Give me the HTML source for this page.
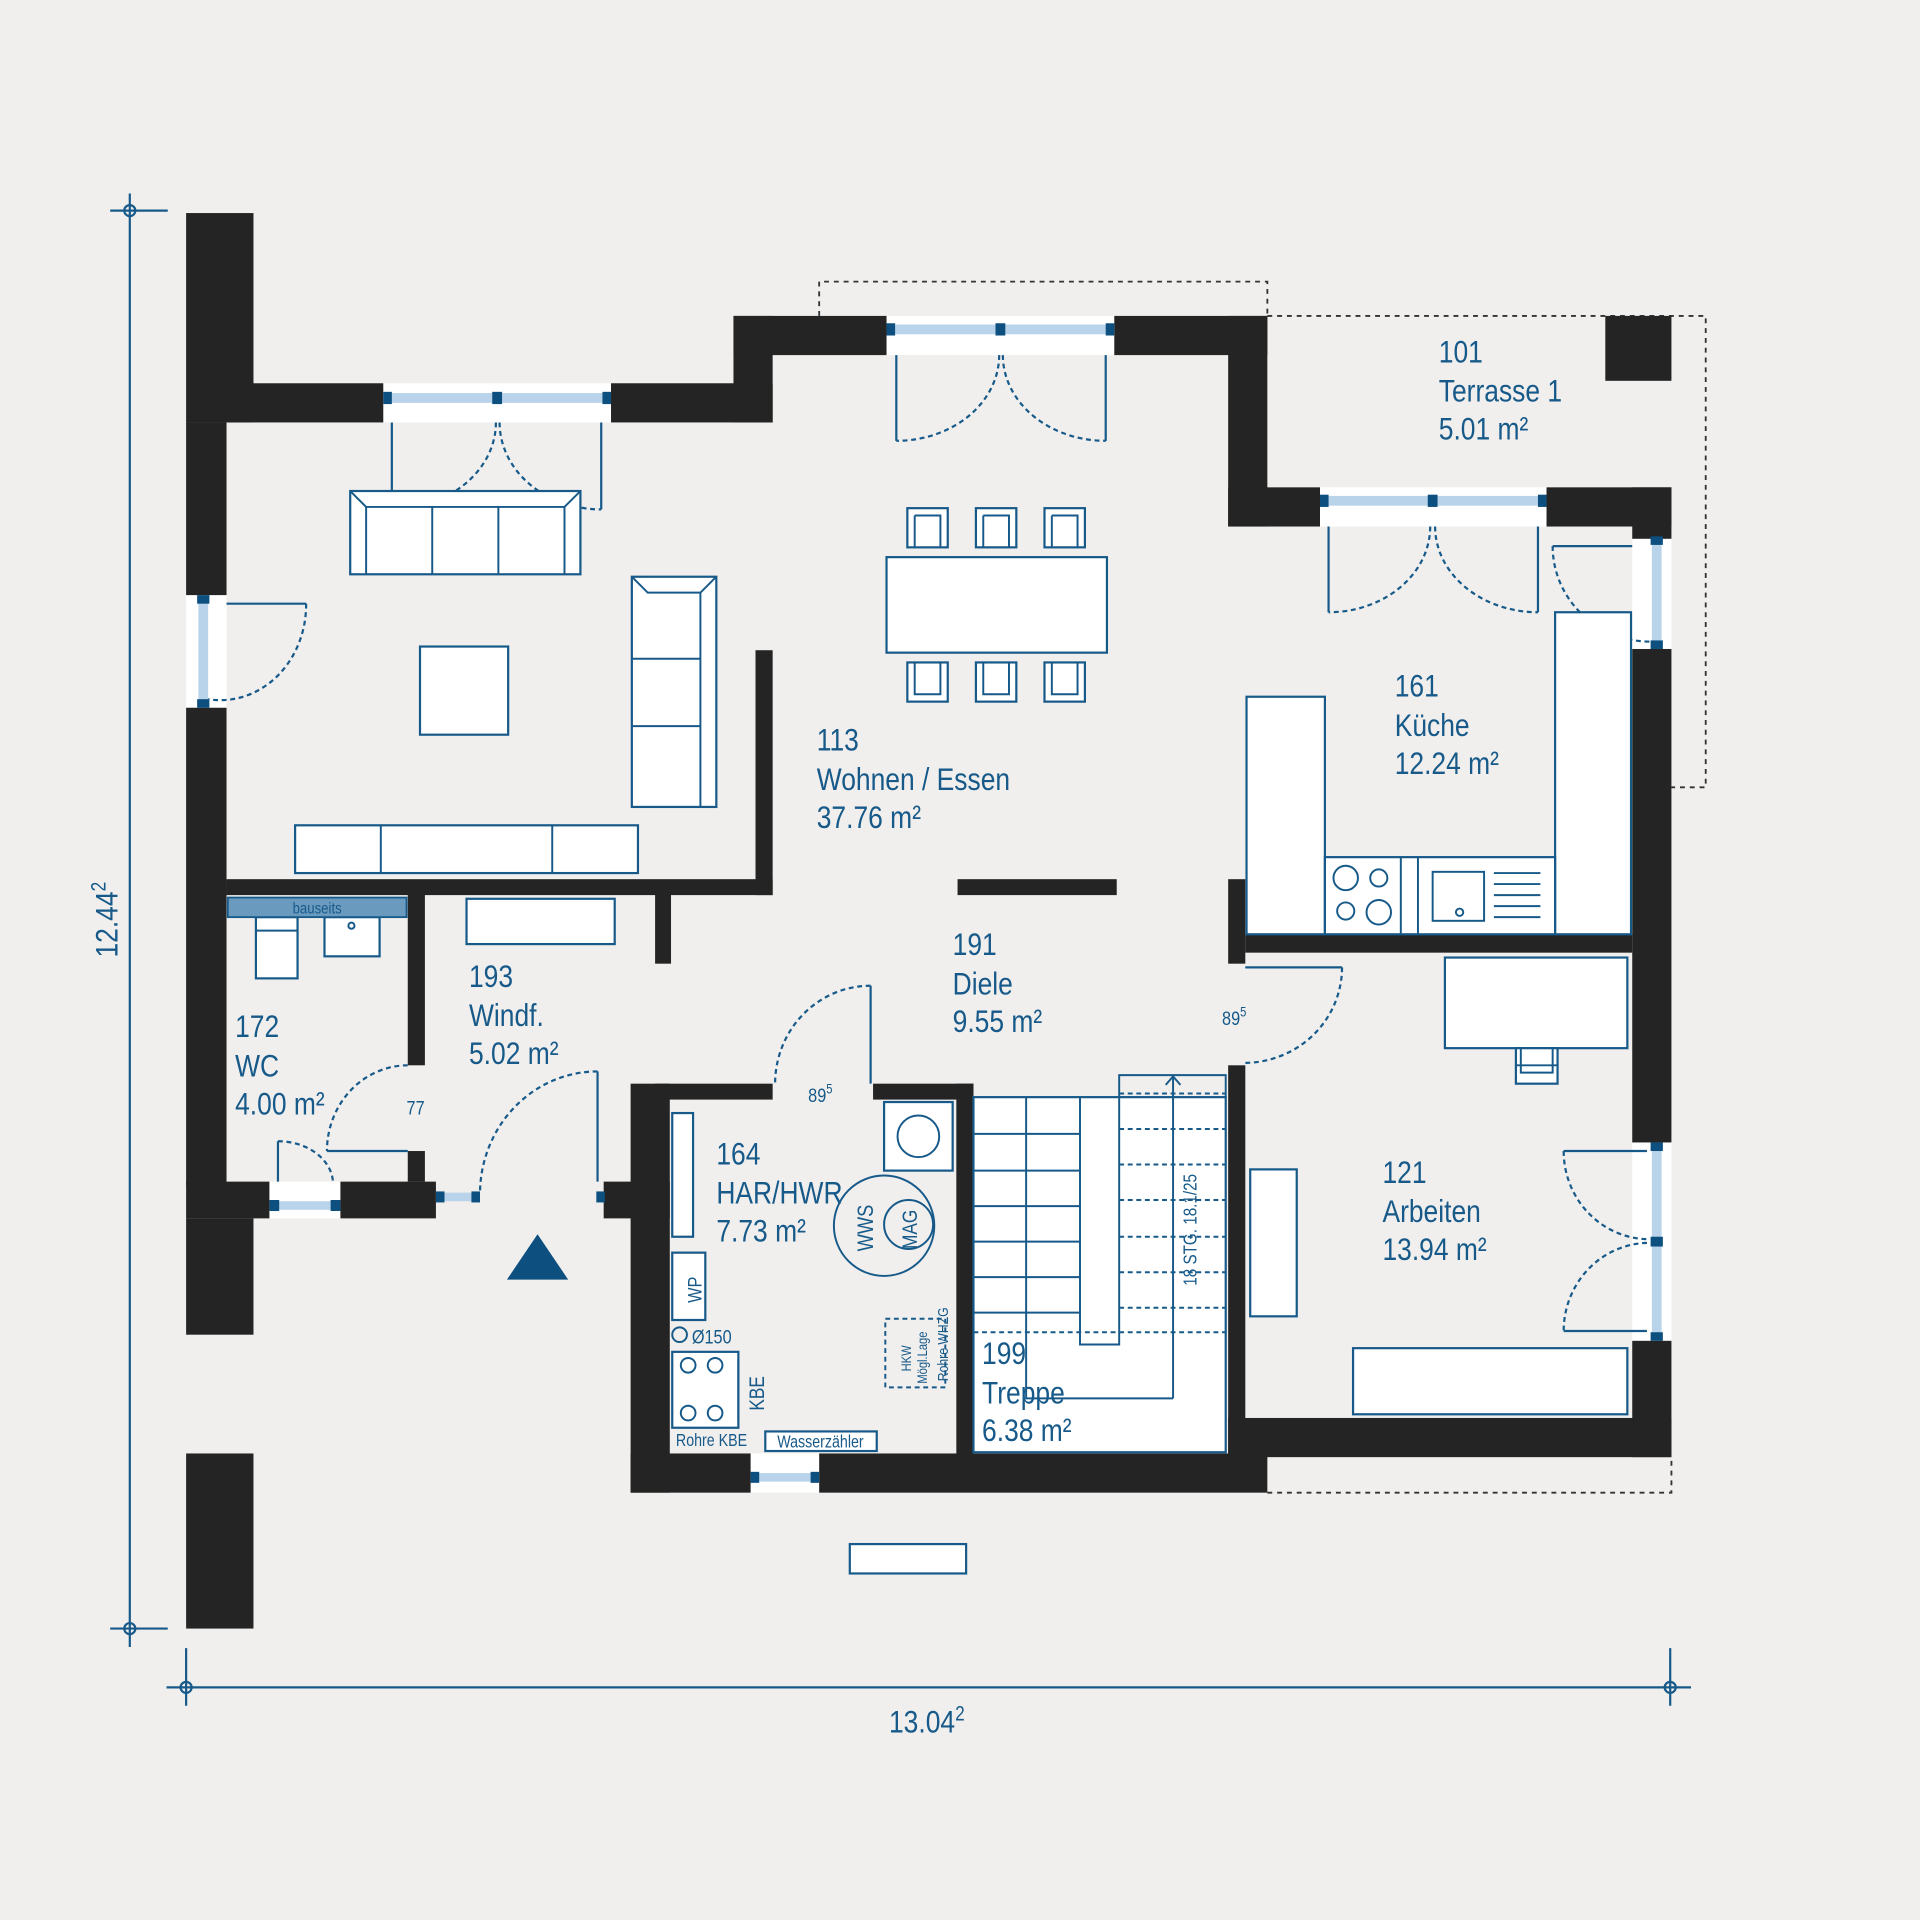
<!DOCTYPE html>
<html><head><meta charset="utf-8"><style>
html,body{margin:0;padding:0;background:#f0efed;}
svg{display:block;}
text{font-family:"Liberation Sans Narrow","Liberation Sans",sans-serif;fill:#175a8a;}
</style></head><body>
<svg width="1920" height="1920" viewBox="0 0 1568 1568" xmlns="http://www.w3.org/2000/svg">
<rect width="1568" height="1568" fill="#f0efed"/>
<g fill="none" stroke="#333" stroke-width="1.5" stroke-dasharray="4,4">
<path d="M669 258 V230 H1035 V258"/>
<path d="M1035 258 H1393 V643 H1365"/>
<path d="M1035 1219 H1365 V1190"/>
</g>
<g fill="#fff">
<rect x="313" y="313" width="186" height="32"/>
<rect x="724" y="258" width="186" height="32"/>
<rect x="1078" y="398" width="185" height="32"/>
<rect x="1333" y="440" width="32" height="90"/>
<rect x="1333" y="933" width="32" height="162"/>
<rect x="152" y="486" width="33" height="92"/>
<rect x="220" y="965" width="58" height="30"/>
<rect x="613" y="1187" width="56" height="32"/>
</g>
<g fill="#242424">
<rect x="152" y="174" width="55" height="171"/>
<rect x="152" y="345" width="33" height="141"/>
<rect x="152" y="578" width="33" height="390"/>
<rect x="152" y="965" width="68" height="30"/>
<rect x="152" y="995" width="55" height="95"/>
<rect x="152" y="1187" width="55" height="143"/>
<rect x="185" y="313" width="128" height="32"/>
<rect x="499" y="313" width="132" height="32"/>
<rect x="599" y="258" width="32" height="87"/>
<rect x="599" y="258" width="125" height="32"/>
<rect x="910" y="258" width="125" height="32"/>
<rect x="1003" y="258" width="32" height="172"/>
<rect x="1003" y="398" width="75" height="32"/>
<rect x="1263" y="398" width="102" height="32"/>
<rect x="1333" y="398" width="32" height="42"/>
<rect x="1333" y="530" width="32" height="403"/>
<rect x="1333" y="1095" width="32" height="95"/>
<rect x="1003" y="1158" width="362" height="32"/>
<rect x="669" y="1187" width="366" height="32"/>
<rect x="515" y="1187" width="98" height="32"/>
<rect x="1311" y="258" width="54" height="53"/>
<rect x="185" y="718" width="446" height="13"/>
<rect x="617" y="531" width="14" height="200"/>
<rect x="333" y="730" width="14" height="140"/>
<rect x="333" y="940" width="14" height="25"/>
<rect x="278" y="965" width="78" height="30"/>
<rect x="493" y="965" width="54" height="30"/>
<rect x="515" y="885" width="32" height="334"/>
<rect x="535" y="885" width="96" height="13"/>
<rect x="713" y="885" width="82" height="13"/>
<rect x="781" y="885" width="14" height="305"/>
<rect x="782" y="718" width="130" height="13"/>
<rect x="535" y="730" width="13" height="57"/>
<rect x="1003" y="718" width="14" height="69"/>
<rect x="1003" y="870" width="14" height="320"/>
<rect x="1017" y="763" width="316" height="15"/>
</g>
<g fill="#b9d3ea">
<rect x="316" y="321" width="180" height="8"/>
<rect x="727" y="265" width="180" height="8"/>
<rect x="1081" y="405" width="179" height="8"/>
<rect x="1349" y="443" width="8" height="84"/>
<rect x="1349" y="936" width="8" height="156"/>
<rect x="162" y="489" width="8" height="86"/>
<rect x="223" y="981" width="52" height="7"/>
<rect x="616" y="1203" width="50" height="7"/>
<rect x="358" y="974" width="32" height="7"/>
</g>
<g fill="#0d4f7e">
<rect x="313" y="320" width="7" height="10"/><rect x="402" y="320" width="8" height="10"/><rect x="492" y="320" width="7" height="10"/>
<rect x="724" y="264" width="7" height="10"/><rect x="813" y="264" width="8" height="10"/><rect x="903" y="264" width="7" height="10"/>
<rect x="1078" y="404" width="7" height="10"/><rect x="1166" y="404" width="8" height="10"/><rect x="1256" y="404" width="7" height="10"/>
<rect x="1348" y="438" width="10" height="7"/><rect x="1348" y="523" width="10" height="7"/>
<rect x="1348" y="933" width="10" height="7"/><rect x="1348" y="1010" width="10" height="8"/><rect x="1348" y="1088" width="10" height="7"/>
<rect x="161" y="486" width="10" height="7"/><rect x="161" y="571" width="10" height="7"/>
<rect x="220" y="980" width="8" height="9"/><rect x="270" y="980" width="8" height="9"/>
<rect x="613" y="1202" width="7" height="9"/><rect x="662" y="1202" width="7" height="9"/>
<rect x="356" y="973" width="7" height="9"/><rect x="385" y="973" width="7" height="9"/>
<rect x="487" y="973" width="7" height="9"/>
</g>
<g fill="none" stroke="#175a8a" stroke-width="1.8">
<path d="M320 345 V416 M491 345 V416"/>
<path d="M732 290 V360 M903 290 V360"/>
<path d="M1085 430 V500 M1256 430 V500"/>
<path d="M1268 446 H1333"/>
<path d="M185 493 H250"/>
<path d="M711 805 V885"/>
<path d="M1017 790 H1096"/>
<path d="M227 932 V965"/>
<path d="M267 940 H333"/>
<path d="M488 875 V965"/>
<path d="M1277 940 H1345 M1277 1087 H1345"/>
</g>
<g fill="none" stroke="#175a8a" stroke-width="1.8" stroke-dasharray="4,3">
<path d="M405 345 A86 71 0 0 1 320 416"/>
<path d="M408 345 A83 71 0 0 0 491 416"/>
<path d="M816 290 A84 70 0 0 1 732 360"/>
<path d="M819 290 A84 70 0 0 0 903 360"/>
<path d="M1168 430 A83 70 0 0 1 1085 500"/>
<path d="M1172 430 A84 70 0 0 0 1256 500"/>
<path d="M1268 446 A80 78 0 0 0 1348 524"/>
<path d="M250 493 A70 78 0 0 1 170 571"/>
<path d="M711 805 A78 80 0 0 0 633 885"/>
<path d="M1096 790 A80 78 0 0 1 1017 868"/>
<path d="M227 932 A45 35 0 0 1 272 967"/>
<path d="M333 870 A66 70 0 0 0 267 940"/>
<path d="M488 875 A96 100 0 0 0 392 975"/>
<path d="M1277 940 A70 72 0 0 0 1345 1012"/>
<path d="M1345 1015 A70 72 0 0 0 1277 1087"/>
</g>
<g fill="#fff" stroke="#175a8a" stroke-width="1.8">
<rect x="286" y="401" width="188" height="68"/>
<rect x="516" y="471" width="69" height="188"/>
<rect x="343" y="528" width="72" height="72"/>
<rect x="241" y="674" width="280" height="39"/>
<rect x="724" y="455" width="180" height="78"/>
<rect x="741" y="415" width="33" height="32"/><rect x="797" y="415" width="33" height="32"/><rect x="853" y="415" width="33" height="32"/>
<rect x="741" y="541" width="33" height="32"/><rect x="797" y="541" width="33" height="32"/><rect x="853" y="541" width="33" height="32"/>
<rect x="1018" y="569" width="64" height="194"/>
<rect x="1270" y="500" width="62" height="263"/>
<rect x="1082" y="700" width="188" height="63"/>
<rect x="1180" y="782" width="149" height="74"/>
<rect x="1238" y="856" width="34" height="29"/>
<rect x="1021" y="955" width="38" height="120"/>
<rect x="1105" y="1101" width="224" height="54"/>
<rect x="381" y="734" width="121" height="37"/>
<rect x="209" y="749" width="34" height="50"/>
<rect x="265" y="749" width="45" height="32"/>
<rect x="549" y="909" width="17" height="101"/>
<rect x="722" y="900" width="56" height="56"/>
<rect x="549" y="1023" width="27" height="55"/>
<rect x="549" y="1104" width="54" height="62"/>
<rect x="625" y="1169" width="91" height="16"/>
<rect x="694" y="1261" width="95" height="24"/>
<rect x="795" y="896" width="206" height="290"/>
</g>
<g fill="none" stroke="#175a8a" stroke-width="1.6">
<path d="M286 401 L299 414 V469 M474 401 L461 414 V469 M299 414 H461 M353 414 V469 M407 414 V469"/>
<path d="M516 471 L529 484 H572 L585 471 M572 484 V659 M516 538 H572 M516 593 H572"/>
<path d="M311 674 V713 M451 674 V713"/>
<path d="M747 421 h21 v26 M747 447 v-26 M803 421 h21 v26 M803 447 v-26 M859 421 h21 v26 M859 447 v-26"/>
<path d="M747 541 v26 h21 v-26 M803 541 v26 h21 v-26 M859 541 v26 h21 v-26"/>
<path d="M1144 700 V763 M1158 700 V763"/>
<rect x="1170" y="712" width="42" height="40"/>
<path d="M1220 713 H1258 M1220 722 H1258 M1220 731 H1258 M1220 740 H1258 M1220 749 H1258"/>
<circle cx="1192" cy="745" r="3"/>
<circle cx="1099" cy="717" r="10"/><circle cx="1126" cy="717" r="7"/><circle cx="1099" cy="744" r="7"/><circle cx="1126" cy="745" r="10"/>
<path d="M1242 856 V876 H1268 V856 M1238 870 H1272"/>
<path d="M209 760 H243"/><circle cx="287" cy="756" r="2.5"/>
<circle cx="750" cy="928" r="17"/>
<circle cx="722" cy="1001" r="41"/><circle cx="742" cy="1000" r="20"/>
<circle cx="555" cy="1090" r="6"/>
<circle cx="562" cy="1115" r="6"/><circle cx="584" cy="1115" r="6"/><circle cx="562" cy="1154" r="6"/><circle cx="584" cy="1154" r="6"/>
<path d="M603 1110 V1161"/>
<path d="M838 896 V1088 M795 926 H882 M795 956 H882 M795 985 H882 M795 1014 H882 M795 1043 H882 M795 1072 H882 M882 896 V1098 H914 V878 H1001 V896 M914 878 V896"/>
<path d="M958 1142 V880 M952 886 L958 879 L964 886 M838 1088 V1142 H958"/>
</g>
<g fill="none" stroke="#175a8a" stroke-width="1.6" stroke-dasharray="4,3">
<path d="M914 893 H1001 M914 922 H1001 M914 951 H1001 M914 980 H1001 M914 1010 H1001 M914 1039 H1001 M914 1068 H1001 M795 1088 H1001"/>
<rect x="723" y="1077" width="49" height="56"/>
</g>
<rect x="186" y="733" width="146" height="16" fill="#6b9abf" stroke="#175a8a" stroke-width="1.5"/>
<text transform="translate(259,746) scale(0.83,1)" font-size="13" text-anchor="middle" fill="#0d3f66">bauseits</text>
<polygon points="439,1008 414,1045 464,1045" fill="#0d4f7e"/>
<g font-size="26">
<g transform="translate(1175,0) scale(0.83,1)"><text x="0" y="296">101</text><text x="0" y="328">Terrasse 1</text><text x="0" y="359">5.01 m²</text></g>
<g transform="translate(1139,0) scale(0.83,1)"><text x="0" y="569">161</text><text x="0" y="601">Küche</text><text x="0" y="632">12.24 m²</text></g>
<g transform="translate(667,0) scale(0.83,1)"><text x="0" y="613">113</text><text x="0" y="645">Wohnen / Essen</text><text x="0" y="676">37.76 m²</text></g>
<g transform="translate(778,0) scale(0.83,1)"><text x="0" y="780">191</text><text x="0" y="812">Diele</text><text x="0" y="843">9.55 m²</text></g>
<g transform="translate(383,0) scale(0.83,1)"><text x="0" y="806">193</text><text x="0" y="838">Windf.</text><text x="0" y="869">5.02 m²</text></g>
<g transform="translate(192,0) scale(0.83,1)"><text x="0" y="847">172</text><text x="0" y="879">WC</text><text x="0" y="910">4.00 m²</text></g>
<g transform="translate(585,0) scale(0.83,1)"><text x="0" y="951">164</text><text x="0" y="983">HAR/HWR</text><text x="0" y="1014">7.73 m²</text></g>
<g transform="translate(802,0) scale(0.83,1)"><text x="0" y="1114">199</text><text x="0" y="1146">Treppe</text><text x="0" y="1177">6.38 m²</text></g>
<g transform="translate(1129,0) scale(0.83,1)"><text x="0" y="966">121</text><text x="0" y="998">Arbeiten</text><text x="0" y="1029">13.94 m²</text></g>
</g>
<g font-size="16">
<text transform="translate(660,900) scale(0.83,1)">89<tspan font-size="11" dy="-7">5</tspan></text>
<text transform="translate(998,837) scale(0.83,1)">89<tspan font-size="11" dy="-7">5</tspan></text>
<text transform="translate(332,910) scale(0.83,1)">77</text>
<text transform="translate(565,1097) scale(0.83,1)">Ø150</text>
</g>
<text transform="translate(552,1181) scale(0.83,1)" font-size="14">Rohre KBE</text>
<text transform="translate(670,1182) scale(0.83,1)" font-size="14" text-anchor="middle">Wasserzähler</text>
<text transform="translate(573,1064) rotate(-90) scale(0.83,1)" font-size="16">WP</text>
<text transform="translate(624,1152) rotate(-90) scale(0.83,1)" font-size="17">KBE</text>
<text transform="translate(713,1022) rotate(-90) scale(0.83,1)" font-size="18">WWS</text>
<text transform="translate(749,1020) rotate(-90) scale(0.83,1)" font-size="17">MAG</text>
<text transform="translate(744,1120) rotate(-90) scale(0.83,1)" font-size="11">HKW</text>
<text transform="translate(757,1130) rotate(-90) scale(0.83,1)" font-size="11">Mögl.Lage</text>
<text transform="translate(774,1128) rotate(-90) scale(0.83,1)" font-size="12">Rohre WHZG</text>
<text transform="translate(977,1050) rotate(-90) scale(0.83,1)" font-size="15">18 STG. 18.1/25</text>
<g stroke="#175a8a" stroke-width="1.8" fill="none">
<path d="M106 158 V1345 M90 172 H137 M90 1330 H137"/>
<circle cx="106" cy="172" r="4.5"/><circle cx="106" cy="1330" r="4.5"/>
<path d="M152 1346 V1393 M1364 1346 V1393 M136 1378 H1381"/>
<circle cx="152" cy="1378" r="4.5"/><circle cx="1364" cy="1378" r="4.5"/>
</g>
<text transform="translate(96,782) rotate(-90) scale(0.83,1)" font-size="26">12.44<tspan font-size="17" dy="-10">2</tspan></text>
<text transform="translate(726,1415) scale(0.83,1)" font-size="26">13.04<tspan font-size="17" dy="-10">2</tspan></text>
</svg>
</body></html>
